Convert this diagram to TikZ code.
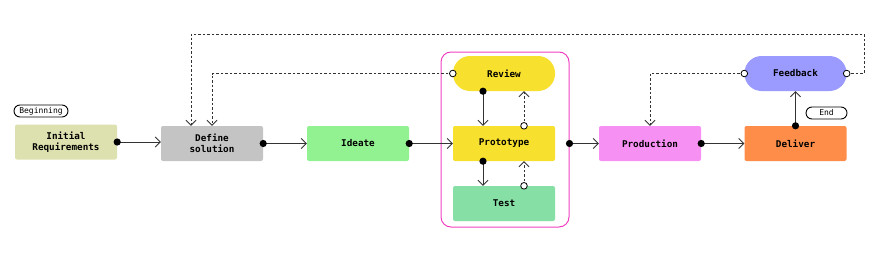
\documentclass[tikz,border=0pt]{standalone}
\usepackage{fontspec}
\setmonofont{DejaVu Sans Mono}
\usetikzlibrary{arrows.meta}
\definecolor{cIR}{HTML}{DDE0AF}
\definecolor{cDS}{HTML}{C4C4C4}
\definecolor{cID}{HTML}{92F292}
\definecolor{cYE}{HTML}{F8E02F}
\definecolor{cTE}{HTML}{86DFA5}
\definecolor{cPR}{HTML}{F690F2}
\definecolor{cDE}{HTML}{FF8D4A}
\definecolor{cFB}{HTML}{9A9AFF}
\definecolor{cCO}{HTML}{F040C0}
\definecolor{cLN}{HTML}{333333}
\tikzset{
  box/.style={rectangle, rounded corners=2pt, minimum width=102pt, minimum height=35pt,
    inner sep=1pt, align=center, font=\ttfamily\bfseries\fontsize{9.3}{11}\selectfont, text=black},
  pill/.style={box, rounded corners=17pt},
  tag/.style={draw=black, line width=0.9pt, rounded corners=6pt, minimum height=12pt, inner sep=1pt,
    font=\ttfamily\fontsize{8}{9}\selectfont},
  conn/.style={draw=cLN, line width=0.9pt, -{Straight Barb[length=5pt,width=10pt]}},
  dconn/.style={conn, dash pattern=on 2.5pt off 2pt},
  dotS/.style={fill=black},
  odotS/.style={draw=black, fill=white, line width=0.8pt},
}
\begin{document}
\begin{tikzpicture}[x=1pt,y=-1pt]
\useasboundingbox (0,0) rectangle (880,265);
% container
\node[draw=cCO, line width=1pt, rounded corners=10pt, minimum width=128pt, minimum height=175pt] (cont) at (505,139.5) {};
% nodes
\node[box, fill=cIR] (ir) at (66,142) {Initial\\Requirements};
\node[box, fill=cDS] (ds) at (212,143.5) {Define\\solution};
\node[box, fill=cID] (ideate) at (358,143.5) {Ideate};
\node[pill, fill=cYE] (review) at (504,73.5) {Review};
\node[box, fill=cYE] (proto) at (504,143.5) {Prototype};
\node[box, fill=cTE] (test) at (504,203.5) {Test};
\node[box, fill=cPR] (prod) at (650,143.5) {Production};
\node[box, fill=cDE] (deliver) at (795.5,143.5) {Deliver};
\node[pill, fill=cFB] (feedback) at (795.5,73.5) {Feedback};
\node[tag, minimum width=54pt] (begin) at (41,111) {Beginning};
\node[tag, minimum width=41pt] (end) at (826.5,113) {End};
% coordinates
\coordinate (topR) at (864,34);
\coordinate (topL) at (191,34);
% solid connectors
\draw[conn] (ir.east) -- (ir.east -| ds.west);
\draw[conn] (ds.east) -- (ideate.west);
\draw[conn] (ideate.east) -- (proto.west);
\draw[conn] (proto.east -| cont.east) -- (prod.west);
\draw[conn] (prod.east) -- (deliver.west);
\draw[conn] (deliver.north) -- (feedback.south);
\draw[conn] ([xshift=-21pt]review.south) -- ([xshift=-21pt]proto.north);
\draw[conn] ([xshift=-21pt]proto.south) -- ([xshift=-21pt]test.north);
% dashed connectors
\draw[dconn] ([xshift=20pt]proto.north) -- ([xshift=20pt]review.south);
\draw[dconn] ([xshift=20pt]test.north) -- ([xshift=20pt]proto.south);
\draw[dconn] (review.west) -| (ds.north);
\draw[dconn] (feedback.west) -| (prod.north);
\draw[dconn] (feedback.east) -| (topR) -- (topL) -- (topL |- ds.north);
% start dots
\fill[dotS] (ir.east) circle (3.6pt);
\fill[dotS] (ds.east) circle (3.6pt);
\fill[dotS] (ideate.east) circle (3.6pt);
\fill[dotS] (proto.east -| cont.east) circle (3.6pt);
\fill[dotS] (prod.east) circle (3.6pt);
\fill[dotS] (deliver.north) circle (3.6pt);
\fill[dotS] ([xshift=-21pt]review.south) circle (3.6pt);
\fill[dotS] ([xshift=-21pt]proto.south) circle (3.6pt);
\filldraw[odotS] ([xshift=20pt]proto.north) circle (3.3pt);
\filldraw[odotS] ([xshift=20pt]test.north) circle (3.3pt);
\filldraw[odotS] (review.west) circle (3.3pt);
\filldraw[odotS] (feedback.west) circle (3.3pt);
\filldraw[odotS] (feedback.east) circle (3.3pt);
\end{tikzpicture}
\end{document}
